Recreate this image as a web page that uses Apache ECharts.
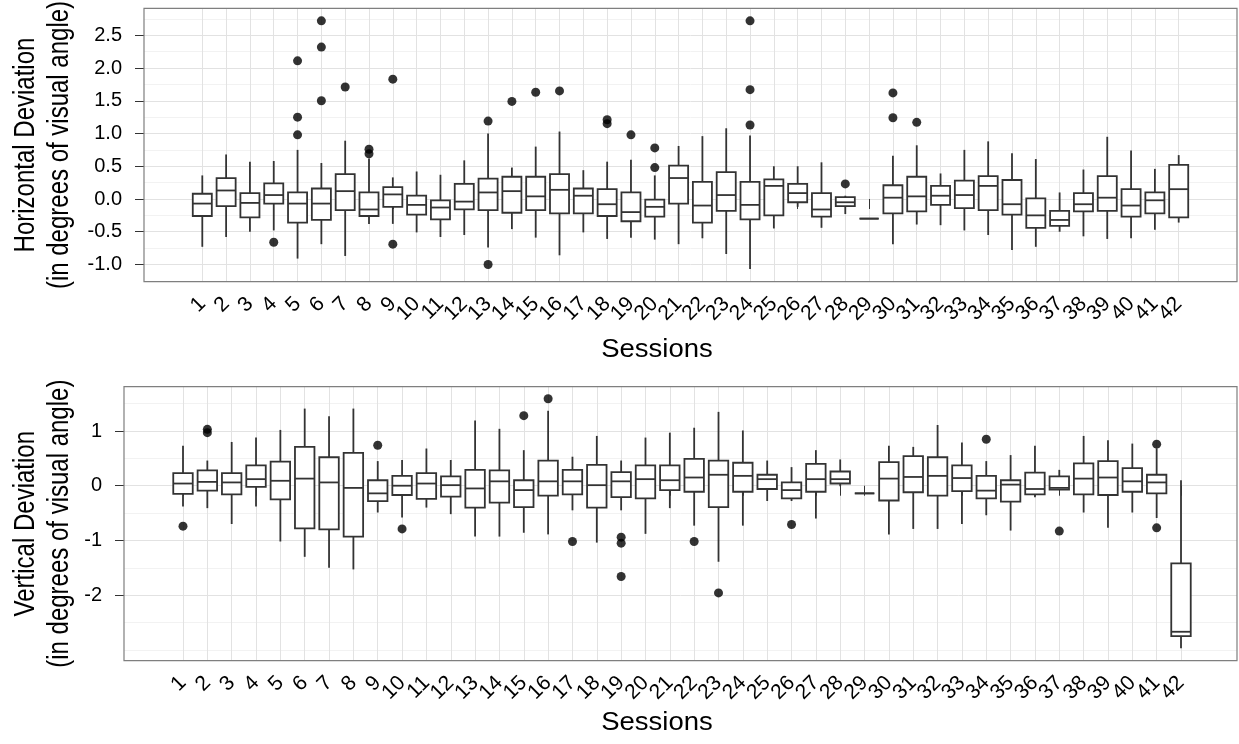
<!DOCTYPE html>
<html><head><meta charset="utf-8">
<script src="https://cdn.jsdelivr.net/npm/echarts@6/dist/echarts.min.js"></script>
<style>html,body{margin:0;padding:0;background:#fff}#c{width:1239px;height:744px}</style>
</head><body><div id="c"></div>
<script>
const sessions = ['1','2','3','4','5','6','7','8','9','10','11','12','13','14','15','16','17','18','19','20','21','22','23','24','25','26','27','28','29','30','31','32','33','34','35','36','37','38','39','40','41','42'];

// per session: [lower whisker, Q1, median, Q3, upper whisker]
const horizontalBoxes = [
  [-0.73,-0.26,-0.07,0.08,0.36],[-0.58,-0.11,0.13,0.32,0.68],[-0.50,-0.28,-0.06,0.09,0.57],[-0.48,-0.07,0.06,0.24,0.58],
  [-0.91,-0.36,-0.07,0.10,0.75],[-0.69,-0.32,-0.07,0.16,0.55],[-0.87,-0.17,0.12,0.38,0.89],[-0.38,-0.26,-0.16,0.10,0.62],
  [-0.38,-0.12,0.07,0.18,0.33],[-0.51,-0.24,-0.09,0.05,0.42],[-0.58,-0.31,-0.13,-0.02,0.37],[-0.55,-0.16,-0.04,0.23,0.59],
  [-0.74,-0.17,0.10,0.31,1.00],[-0.46,-0.21,0.12,0.34,0.48],[-0.59,-0.17,0.04,0.34,0.80],[-0.86,-0.22,0.14,0.38,1.03],
  [-0.51,-0.22,0.05,0.16,0.44],[-0.61,-0.26,-0.08,0.15,0.57],[-0.59,-0.34,-0.20,0.10,0.60],[-0.62,-0.27,-0.12,-0.01,0.36],
  [-0.69,-0.07,0.32,0.51,0.81],[-0.60,-0.36,-0.10,0.26,0.96],[-0.84,-0.18,0.06,0.41,1.08],[-1.07,-0.31,-0.09,0.26,0.97],
  [-0.45,-0.25,0.20,0.30,0.50],[-0.12,-0.05,0.09,0.23,0.50],[-0.44,-0.27,-0.16,0.09,0.56],[-0.23,-0.11,-0.05,0.03,0.05],
  [-0.30,-0.30,-0.30,-0.30,-0.30],[-0.69,-0.22,0.02,0.21,0.66],[-0.39,-0.19,0.04,0.34,0.82],[-0.40,-0.09,0.05,0.20,0.39],
  [-0.48,-0.14,0.06,0.28,0.75],[-0.55,-0.17,0.20,0.35,0.88],[-0.78,-0.24,-0.08,0.29,0.70],[-0.73,-0.44,-0.25,0.01,0.61],
  [-0.50,-0.41,-0.32,-0.18,0.10],[-0.57,-0.19,-0.08,0.09,0.45],[-0.61,-0.18,0.02,0.35,0.95],[-0.60,-0.27,-0.10,0.15,0.74],
  [-0.47,-0.22,-0.02,0.10,0.46],[-0.36,-0.28,0.15,0.52,0.67]
];
// [session, value]
const horizontalOutliers = [
  ['4',-0.66],['5',2.11],['5',1.25],['5',0.98],['6',2.72],['6',2.32],['6',1.50],['7',1.71],['8',0.76],['8',0.69],
  ['9',1.83],['9',-0.69],['13',1.19],['13',-1.00],['14',1.49],['15',1.63],['16',1.65],['18',1.21],['18',1.15],
  ['19',0.98],['20',0.78],['20',0.48],['24',2.72],['24',1.67],['24',1.13],['28',0.23],['30',1.62],['30',1.24],['31',1.17]
];
const verticalBoxes = [
  [-0.38,-0.15,0.04,0.23,0.73],[-0.41,-0.09,0.07,0.28,0.46],[-0.70,-0.16,0.06,0.23,0.80],[-0.38,-0.02,0.12,0.37,0.88],
  [-1.02,-0.25,0.09,0.44,1.02],[-1.30,-0.78,0.13,0.71,1.41],[-1.50,-0.80,0.06,0.52,1.27],[-1.53,-0.93,-0.04,0.60,1.41],
  [-0.49,-0.28,-0.14,0.10,0.45],[-0.58,-0.17,0.00,0.18,0.47],[-0.40,-0.24,0.04,0.23,0.68],[-0.52,-0.20,0.01,0.17,0.47],
  [-0.93,-0.40,-0.05,0.29,1.19],[-0.93,-0.31,0.08,0.28,1.04],[-0.86,-0.39,-0.08,0.10,0.65],[-0.89,-0.18,0.08,0.46,1.37],
  [-0.45,-0.16,0.08,0.29,0.53],[-1.04,-0.40,0.01,0.38,0.91],[-0.45,-0.21,0.08,0.25,0.46],[-0.88,-0.23,0.12,0.37,0.88],
  [-0.41,-0.08,0.10,0.37,0.97],[-0.73,-0.11,0.15,0.49,1.06],[-1.39,-0.39,0.20,0.46,1.35],[-0.73,-0.11,0.18,0.42,1.01],
  [-0.28,-0.06,0.12,0.20,0.46],[-0.28,-0.23,-0.08,0.06,0.34],[-0.60,-0.11,0.12,0.40,0.65],[-0.01,0.04,0.12,0.26,0.48],
  [-0.14,-0.14,-0.14,-0.14,-0.14],[-0.89,-0.27,0.13,0.43,0.73],[-0.79,-0.12,0.16,0.54,0.71],[-0.79,-0.18,0.18,0.52,1.11],
  [-0.70,-0.10,0.14,0.37,0.79],[-0.54,-0.23,-0.09,0.18,0.45],[-0.82,-0.29,0.02,0.10,0.56],[-0.21,-0.16,-0.06,0.24,0.73],
  [-0.08,-0.07,-0.04,0.17,0.29],[-0.49,-0.16,0.13,0.41,0.91],[-0.77,-0.17,0.15,0.45,0.83],[-0.49,-0.11,0.08,0.32,0.77],
  [-0.59,-0.14,0.06,0.20,0.68],[-2.97,-2.75,-2.67,-1.42,0.10]
];
const verticalOutliers = [
  ['1',-0.74],['2',1.03],['2',0.97],['9',0.74],['10',-0.79],['15',1.28],['16',1.59],['17',-1.02],
  ['19',-0.94],['19',-1.05],['19',-1.66],['22',-1.02],['23',-1.96],['26',-0.71],['34',0.85],['37',-0.83],['41',0.76],['41',-0.77]
];
const horizontalTicks = [-1.0,-0.5,0.0,0.5,1.0,1.5,2.0,2.5];
const verticalTicks = [-2,-1,0,1];

const FONT = '"Liberation Sans", Arial, Helvetica, sans-serif';
const MAJOR = '#e2e2e2', MINOR = '#f2f2f2', INK = '#333333';

// panel layout: pixel frame and the value range it spans
const panels = [
  {left:144, right:1237, top:8.3, bottom:281.7, vTop:2.912, vBottom:-1.263, dataLeft:202.3, dataRight:1178.7,
   gridMin:-1.25, gridMax:2.75, gridStep:0.25, ticks:horizontalTicks, tickStep:0.5, digits:1,
   boxes:horizontalBoxes, outliers:horizontalOutliers},
  {left:124, right:1237, top:386.7, bottom:660.7, vTop:1.81, vBottom:-3.199, dataLeft:183, dataRight:1181,
   gridMin:-3.0, gridMax:1.5, gridStep:0.5, ticks:verticalTicks, tickStep:1, digits:0,
   boxes:verticalBoxes, outliers:verticalOutliers}
];

function py(p, v){ return p.top + (p.vTop - v) * (p.bottom - p.top) / (p.vTop - p.vBottom); }

function renderBox(params, api){
  const i = api.value(0);
  const lo = api.coord([i, api.value(1)]);
  const q1 = api.coord([i, api.value(2)]);
  const md = api.coord([i, api.value(3)]);
  const q3 = api.coord([i, api.value(4)]);
  const hi = api.coord([i, api.value(5)]);
  const w = api.size([1, 0])[0] * 0.8;
  const cx = md[0];
  const st = {stroke: INK, lineWidth: 1.8};
  return {type:'group', children:[
    {type:'line', shape:{x1:cx, y1:hi[1], x2:cx, y2:q3[1]}, style:st},
    {type:'line', shape:{x1:cx, y1:q1[1], x2:cx, y2:lo[1]}, style:st},
    {type:'rect', shape:{x:cx - w/2, y:q3[1], width:w, height:q1[1] - q3[1]}, style:{fill:'#fff', stroke:INK, lineWidth:1.8}},
    {type:'line', shape:{x1:cx - w/2, y1:md[1], x2:cx + w/2, y2:md[1]}, style:st}
  ]};
}

const grid = [], xAxis = [], yAxis = [], series = [];
panels.forEach((p, k) => {
  const g0 = grid.length;
  const W = 1239;
  // frame
  grid.push({left:p.left, right:W - p.right, top:p.top, height:p.bottom - p.top, show:true,
             borderColor:'#7f7f7f', borderWidth:1.2, backgroundColor:'transparent', z:10});
  xAxis.push({gridIndex:g0, type:'value', show:false});
  yAxis.push({gridIndex:g0, type:'value', min:p.vBottom, max:p.vTop, show:false});
  // horizontal grid lines (major + minor)
  const gTop = py(p, p.gridMax), gBot = py(p, p.gridMin);
  grid.push({left:p.left, right:W - p.right, top:gTop, height:gBot - gTop});
  const colors = [];
  const nLines = Math.round((p.gridMax - p.gridMin) / p.gridStep);
  for (let j = 0; j <= nLines; j++) {
    const v = p.gridMin + j * p.gridStep;
    colors.push(p.ticks.some(t => Math.abs(t - v) < 1e-6) ? MAJOR : MINOR);
  }
  xAxis.push({gridIndex:g0+1, type:'value', show:false});
  yAxis.push({gridIndex:g0+1, type:'value', min:p.gridMin, max:p.gridMax, interval:p.gridStep,
    axisLine:{show:false}, axisTick:{show:false}, axisLabel:{show:false},
    splitLine:{show:true, lineStyle:{color:colors, width:1}}});
  // tick labels
  const tMin = p.ticks[0], tMax = p.ticks[p.ticks.length - 1];
  const lTop = py(p, tMax), lBot = py(p, tMin);
  grid.push({left:p.left, right:W - p.right, top:lTop, height:lBot - lTop});
  xAxis.push({gridIndex:g0+2, type:'value', show:false});
  yAxis.push({gridIndex:g0+2, type:'value', min:tMin, max:tMax, interval:p.tickStep,
    axisLine:{show:false}, splitLine:{show:false},
    axisTick:{show:true, length:9, lineStyle:{color:INK, width:1}},
    axisLabel:{show:true, margin:22, color:'#000', fontSize:20, fontFamily:FONT,
      formatter: v => (Math.abs(v) < 1e-9 ? 0 : v).toFixed(p.digits)}});
  // data
  grid.push({left:p.dataLeft, right:W - p.dataRight, top:p.top, height:p.bottom - p.top});
  xAxis.push({gridIndex:g0+3, type:'category', data:sessions, boundaryGap:false,
    axisLine:{show:false},
    axisTick:{show:true, length:10, interval:0, lineStyle:{color:INK, width:1}},
    splitLine:{show:true, interval:0, lineStyle:{color:MAJOR, width:1}},
    axisLabel:{show:true, interval:0, rotate:45, margin:19, color:'#000', fontSize:21, fontFamily:FONT}});
  yAxis.push({gridIndex:g0+3, type:'value', min:p.vBottom, max:p.vTop, show:false});
  series.push({type:'custom', xAxisIndex:g0+3, yAxisIndex:g0+3, renderItem:renderBox, silent:true, z:3,
    encode:{x:0, y:[1,2,3,4,5]},
    data:p.boxes.map((b, i) => [i].concat(b))});
  series.push({type:'scatter', xAxisIndex:g0+3, yAxisIndex:g0+3, symbolSize:9, silent:true, z:4,
    itemStyle:{color:'#000'}, data:p.outliers.map(o => [sessions.indexOf(o[0]), o[1]])});
});

const yTitle = {font: '24px ' + FONT, fill:'#000', align:'center', verticalAlign:'middle', lineHeight:28};
const xTitle = {font: '25px ' + FONT, fill:'#000', align:'center', verticalAlign:'middle'};
const option = {
  animation:false,
  backgroundColor:'#fff',
  grid, xAxis, yAxis, series,
  graphic:[
    {type:'text', x:43, y:145, rotation:Math.PI/2, scaleY:1.2, style:Object.assign({text:'Horizontal Deviation\n(in degrees of visual angle)'}, yTitle)},
    {type:'text', x:43, y:523.7, rotation:Math.PI/2, scaleY:1.2, style:Object.assign({text:'Vertical Deviation\n(in degrees of visual angle)'}, yTitle)},
    {type:'text', x:657, y:350, scaleX:1.1, style:Object.assign({text:'Sessions'}, xTitle)},
    {type:'text', x:657, y:723, scaleX:1.1, style:Object.assign({text:'Sessions'}, xTitle)}
  ]
};
const chart = echarts.init(document.getElementById('c'), null, {renderer:'canvas'});
chart.setOption(option);
</script>
</body></html>
